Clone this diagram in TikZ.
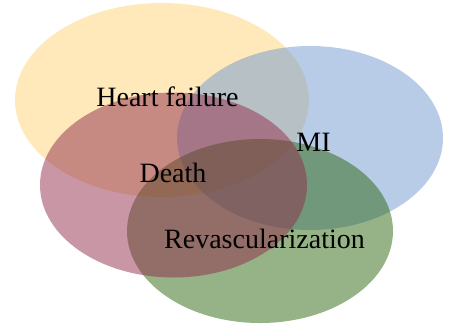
\documentclass[tikz,border=0pt]{standalone}
\usepackage{fontspec}
\setmainfont{Liberation Serif}
\usepackage{xcolor}
\definecolor{hfcol}{RGB}{255,211,117}
\definecolor{micol}{RGB}{113,153,209}
\definecolor{revcol}{RGB}{45,101,15}
\definecolor{deathcol}{RGB}{145,45,75}
\tikzset{
  setfill/.style={fill=#1,fill opacity=0.5},
  setlabel/.style={anchor=base,inner sep=0pt,font=\fontsize{14}{17}\selectfont}
}

\begin{document}
\begin{tikzpicture}[x=0.5pt,y=-0.5pt]
\useasboundingbox (0,0) rectangle (452,329);

% Outcome sets
\fill[setfill=hfcol] (162,100) ellipse (147 and 97);
\fill[setfill=micol] (310,138) ellipse (133 and 92);
\fill[setfill=revcol] (260,231) ellipse (133 and 92);
\fill[setfill=deathcol] (173.5,185) ellipse (133.5 and 92.5);

% Labels
\node[setlabel] (hf) at (167.5,106) {Heart failure};
\node[setlabel] (mi) at (313.5,151) {MI};
\node[setlabel] (death) at (173,182) {Death};
\node[setlabel] (revasc) at (264.5,248) {Revascularization};
\end{tikzpicture}
\end{document}
